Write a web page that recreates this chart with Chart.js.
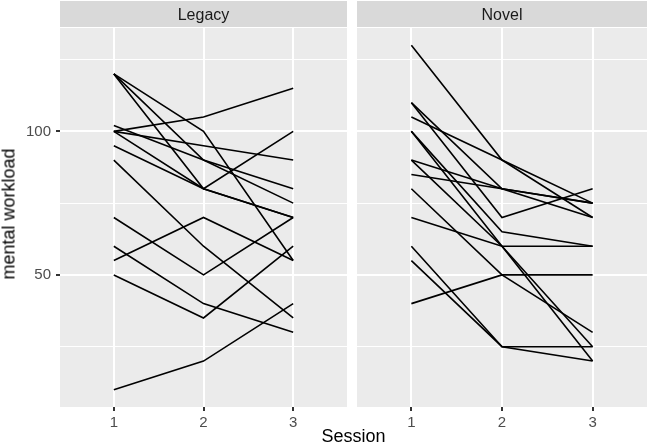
<!DOCTYPE html>
<html lang="en">
<head>
    <meta charset="UTF-8">
    <title>mental workload</title>
    <script src="https://cdn.jsdelivr.net/npm/chart.js@4.4.0/dist/chart.umd.min.js"></script>
    <style>
        body { margin: 0; background: #fff; }
        #wrap { position: relative; width: 647px; height: 446px; overflow: hidden; font-family: 'Liberation Sans', Arial, sans-serif; }
        #leftBox { position: absolute; left: 0; top: 0; width: 350px; height: 446px; }
        #rightBox { position: absolute; left: 350px; top: 0; width: 297px; height: 446px; }
        #xTitle { position: absolute; left: 60px; width: 587px; top: 426px; text-align: center; font-size: 18px; color: #000; }
        #yTitle { position: absolute; left: 9px; top: 214px; transform: translate(-50%, -50%) rotate(-90deg); white-space: nowrap; font-size: 18px; font-weight: normal; color: #000; }
    </style>
    <script>
        // x positions (session) shared by both panels
        const sessions = [1, 2, 3];
        const panels = ['Legacy', 'Novel'];
        // one row per participant: workload at session 1, 2, 3
        const legacyLines = [
            [120, 100, 55],
            [120, 90, 80],
            [120, 80, 70],
            [102, 90, 75],
            [100, 80, 100],
            [100, 95, 90],
            [100, 105, 115],
            [95, 80, 70],
            [90, 60, 35],
            [70, 50, 70],
            [60, 40, 30],
            [55, 70, 55],
            [50, 35, 60],
            [10, 20, 40]
        ];
        const novelLines = [
            [130, 90, 75],
            [110, 80, 70],
            [110, 70, 80],
            [105, 90, 70],
            [100, 65, 60],
            [100, 60, 20],
            [90, 80, 75],
            [90, 60, 25],
            [85, 80, 75],
            [80, 50, 30],
            [70, 60, 60],
            [60, 25, 25],
            [55, 25, 20],
            [40, 50, 50]
        ];
        const yTicks = [25, 50, 75, 100, 125];
        const yLabeled = [50, 100];
        const yRange = [4, 136];
        const xRange = [0.4, 3.6];

        const FONT = "'Liberation Sans', Arial, sans-serif";

        // panel background + facet strip
        const facetPlugin = {
            id: 'facet',
            beforeDraw(chart, args, opts) {
                const a = chart.chartArea, ctx = chart.ctx;
                ctx.save();
                ctx.fillStyle = '#EBEBEB';
                ctx.fillRect(a.left, a.top, a.right - a.left, a.bottom - a.top);
                ctx.fillStyle = '#D9D9D9';
                ctx.fillRect(a.left, 1, a.right - a.left, a.top - 2);
                ctx.fillStyle = '#1A1A1A';
                ctx.font = '16px ' + FONT;
                ctx.textAlign = 'center';
                ctx.textBaseline = 'middle';
                ctx.fillText(opts.title, (a.left + a.right) / 2, (a.top + 1) / 2 + 1);
                ctx.restore();
            }
        };

        function makeDatasets(rows) {
            return rows.map(r => ({
                data: sessions.map((s, i) => ({ x: s, y: r[i] })),
                borderColor: '#000000',
                borderWidth: 1.6,
                pointRadius: 0,
                tension: 0,
                fill: false
            }));
        }

        function makeChart(id, title, rows, showY, padLeft, padRight) {
            const ctx = document.getElementById(id).getContext('2d');
            return new Chart(ctx, {
                type: 'line',
                data: { datasets: makeDatasets(rows) },
                plugins: [facetPlugin],
                options: {
                    responsive: false,
                    animation: false,
                    events: [],
                    layout: { padding: { top: 28, left: padLeft, right: padRight, bottom: 0 } },
                    plugins: {
                        legend: { display: false },
                        tooltip: { enabled: false },
                        facet: { title: title }
                    },
                    scales: {
                        x: {
                            type: 'linear',
                            min: xRange[0],
                            max: xRange[1],
                            afterBuildTicks: s => { s.ticks = sessions.map(v => ({ value: v })); },
                            afterFit: s => { s.height = 39; },
                            border: { display: false },
                            grid: { color: '#FFFFFF', lineWidth: 2, tickColor: '#333333', tickLength: 4 },
                            ticks: { color: '#4D4D4D', font: { family: FONT, size: 15 }, padding: 3, maxRotation: 0 }
                        },
                        y: {
                            type: 'linear',
                            min: yRange[0],
                            max: yRange[1],
                            afterBuildTicks: s => { s.ticks = yTicks.map(v => ({ value: v })); },
                            afterFit: s => { s.width = showY ? 60 : 0; },
                            border: { display: false },
                            grid: {
                                color: '#FFFFFF',
                                lineWidth: c => yLabeled.includes(c.tick.value) ? 2 : 1,
                                drawTicks: showY,
                                tickColor: c => yLabeled.includes(c.tick.value) ? '#333333' : 'rgba(0,0,0,0)',
                                tickLength: 4
                            },
                            ticks: {
                                display: showY,
                                color: '#4D4D4D',
                                font: { family: FONT, size: 15 },
                                padding: 5,
                                callback: v => yLabeled.includes(v) ? String(v) : ''
                            }
                        }
                    }
                }
            });
        }

        window.addEventListener('load', function () {
            makeChart('leftChart', panels[0], legacyLines, true, 0, 3);
            makeChart('rightChart', panels[1], novelLines, false, 7, 0);
        });
    </script>
</head>
<body>
<div id="wrap">
    <div id="leftBox"><canvas id="leftChart" width="350" height="446"></canvas></div>
    <div id="rightBox"><canvas id="rightChart" width="297" height="446"></canvas></div>
    <div id="yTitle">mental workload</div>
    <div id="xTitle">Session</div>
</div>
</body>
</html>
